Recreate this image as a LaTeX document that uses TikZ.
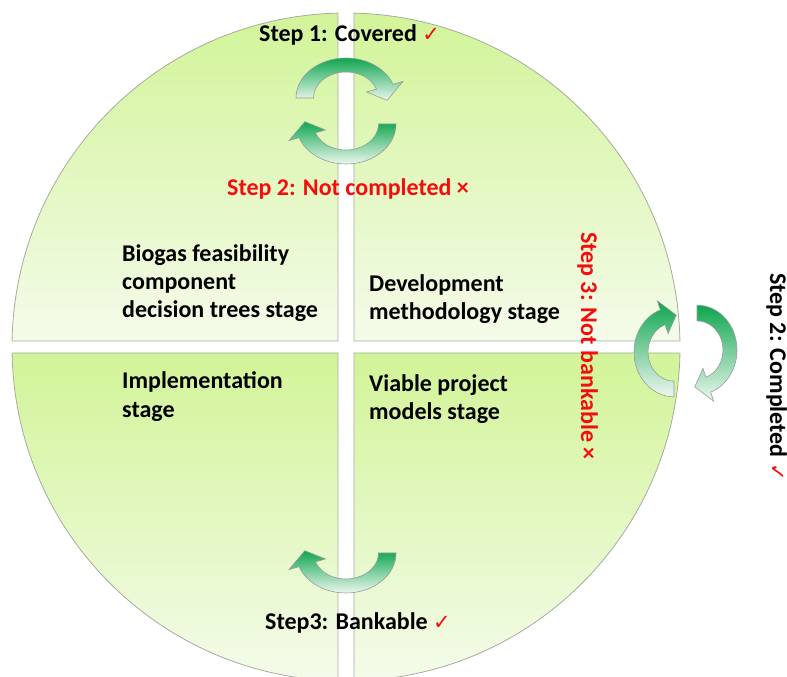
\documentclass[tikz,border=0pt]{standalone}
\usepackage{fontspec}
\setmainfont{Carlito}
\newfontfamily\symfont{DejaVu Sans}
\definecolor{quadtop}{RGB}{210,244,152}
\definecolor{quadbottom}{RGB}{244,251,234}
\definecolor{quadline}{RGB}{165,172,160}
\definecolor{arrowdark}{RGB}{14,166,80}
\definecolor{arrowlight}{RGB}{236,247,238}
\definecolor{arrowline}{RGB}{150,158,150}
\definecolor{alertred}{RGB}{245,12,12}

% arrow band: outer / inner / middle radius, and how far the head sticks out
\def\aro{40}
\def\ari{26}
\def\arm{33}
\def\awing{8.5}
% #1 start angle, #2 angle where the head begins, #3 angle of the tip
\newcommand\cyclearrow[3]{%
  \path[arrowbody] (#1:\aro) arc[start angle=#1, end angle=#2, radius=\aro]
    -- (#2:{\aro+\awing}) -- (#3:\arm) -- (#2:{\ari-\awing}) -- (#2:\ari)
    arc[start angle=#2, end angle=#1, radius=\ari] -- cycle;}
\newcommand\tick{{\symfont\color{alertred}\fontsize{21}{21}\selectfont ✓}}
\newcommand\cross{{\color{alertred}×}}

\begin{document}
\begin{tikzpicture}[x=1pt, y=1pt,
  quad/.style={draw=quadline, line width=0.8pt, top color=quadtop, bottom color=quadbottom},
  arrowbody/.style={draw=arrowline, line width=0.6pt, top color=arrowdark, bottom color=arrowlight},
  label/.style={inner sep=0pt, anchor=base west, font=\fontsize{24}{28}\selectfont\bfseries},
  alert/.style={label, text=alertred}]
\useasboundingbox (0,0) rectangle (787,677);

% the four quadrants of the disc, separated by a white cross
\begin{scope}
  \clip (0,0) rectangle (787,677);
  \begin{scope}[shift={(346,330)}]
    \path[quad] (8,6) -- (1.03:334) arc[start angle=1.03, end angle=88.63, radius=334] -- cycle;
    \path[quad] (-8,6) -- (91.37:334) arc[start angle=91.37, end angle=178.97, radius=334] -- cycle;
    \path[quad] (-8,-6) -- (181.03:334) arc[start angle=181.03, end angle=268.63, radius=334] -- cycle;
    \path[quad] (8,-6) -- (271.37:334) arc[start angle=271.37, end angle=358.97, radius=334] -- cycle;
  \end{scope}
\end{scope}

% cycle arrows at the top
\begin{scope}[shift={(346,579)}, xscale=1.25]
  \cyclearrow{180}{20}{-4}
\end{scope}
\begin{scope}[shift={(346,553)}, xscale=1.25]
  \cyclearrow{0}{-160}{-184}
\end{scope}
% cycle arrow at the bottom
\begin{scope}[shift={(346,124)}, xscale=1.25]
  \cyclearrow{0}{-160}{-184}
\end{scope}
% cycle arrows on the right
\begin{scope}[shift={(674,325)}, yscale=1.12]
  \cyclearrow{270}{110}{86}
\end{scope}
\begin{scope}[shift={(697,327)}, yscale=1.12]
  \cyclearrow{90}{-70}{-94}
\end{scope}

% stage texts
\node[label] (bio1) at (122,415) {Biogas feasibility};
\node[label] (bio2) at (122,387) {component};
\node[label] (bio3) at (122,359) {decision trees stage};
\node[label] (dev1) at (369,385) {Development};
\node[label] (dev2) at (369,357) {methodology stage};
\node[label] (imp1) at (122,288) {Implementation};
\node[label] (imp2) at (122,259) {stage};
\node[label] (via1) at (369,285) {Viable project};
\node[label] (via2) at (369,257) {models stage};

% step texts
\node[label] (step1) at (259,635) {Step 1: Covered \tick};
\node[alert] (step2a) at (227,481) {Step 2: Not completed \cross};
\node[label] (step3b) at (265,47) {Step3: Bankable \tick};
\node[alert, rotate=-90] (step3a) at (581,445) {Step 3: Not bankable \cross};
\node[label, rotate=-90] (step2b) at (770,404) {Step 2: Completed \tick};
\end{tikzpicture}
\end{document}
